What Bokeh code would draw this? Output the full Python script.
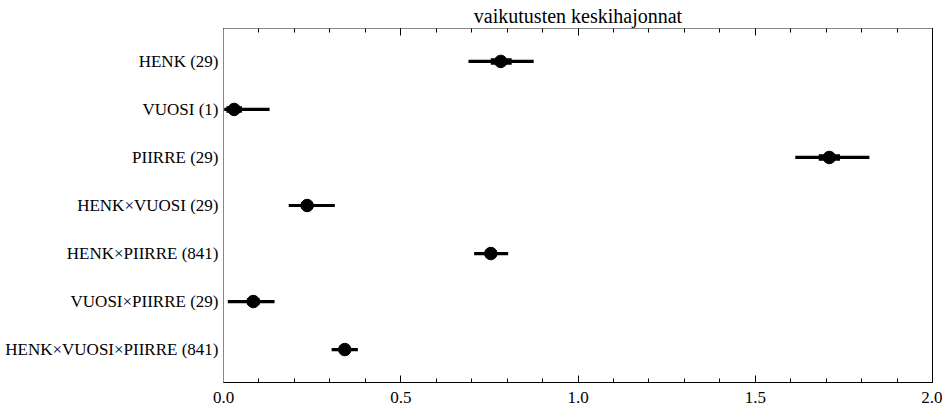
from bokeh.plotting import figure
from bokeh.models import FactorRange, LinearAxis, FixedTicker, ColumnDataSource
from bokeh.embed import file_html
from bokeh.resources import INLINE

labels = ["HENK (29)", "VUOSI (1)", "PIIRRE (29)", "HENK\u00d7VUOSI (29)",
          "HENK\u00d7PIIRRE (841)", "VUOSI\u00d7PIIRRE (29)", "HENK\u00d7VUOSI\u00d7PIIRRE (841)"]
median = [0.782, 0.030, 1.709, 0.236, 0.754, 0.084, 0.342]
lo95 = [0.691, 0.002, 1.613, 0.184, 0.707, 0.012, 0.305]
hi95 = [0.875, 0.130, 1.822, 0.314, 0.803, 0.144, 0.379]
lo50 = [0.754, 0.008, 1.679, 0.220, 0.738, 0.066, 0.328]
hi50 = [0.813, 0.052, 1.739, 0.252, 0.770, 0.102, 0.356]
x_ticks = [0.0, 0.5, 1.0, 1.5, 2.0]
x_tick_labels = ["0.0", "0.5", "1.0", "1.5", "2.0"]
title_text = "vaikutusten keskihajonnat"

src = ColumnDataSource(dict(cat=labels, med=median, lo95=lo95, hi95=hi95, lo50=lo50, hi50=hi50))

FONT = "Liberation Serif"
minor = [i / 10 for i in range(21)]

p = figure(width=942, height=407, output_backend="svg", toolbar_location=None,
           x_range=(0, 2.0),
           y_range=FactorRange(factors=list(reversed(labels)), range_padding=0.053),
           x_axis_location="below", title=title_text)
p.min_border_left = 223
p.min_border_right = 10
p.min_border_top = 28
p.min_border_bottom = 25

p.title.align = "center"
p.title.text_font = FONT
p.title.text_font_style = "normal"
p.title.text_font_size = "20px"
p.title.text_color = "black"
p.title.standoff = 4
p.title.offset = 0

p.grid.visible = False
p.outline_line_color = "black"
p.outline_line_width = 1
p.background_fill_color = "white"
p.border_fill_color = "white"

xa = p.xaxis[0]
xa.ticker = FixedTicker(ticks=x_ticks, minor_ticks=minor)
xa.major_tick_in = 7
xa.major_tick_out = 0
xa.minor_tick_in = 4
xa.minor_tick_out = 0
xa.major_label_standoff = 9
xa.major_label_text_font = FONT
xa.major_label_text_font_size = "17px"
xa.major_label_text_color = "black"
xa.axis_line_color = "black"
xa.major_tick_line_color = "black"
xa.minor_tick_line_color = "black"
xa.major_label_overrides = dict(zip(x_ticks, x_tick_labels))

top = LinearAxis(ticker=FixedTicker(ticks=x_ticks, minor_ticks=minor))
top.major_tick_in = 7
top.major_tick_out = 0
top.minor_tick_in = 4
top.minor_tick_out = 0
top.major_label_overrides = {t: "" for t in x_ticks}
top.major_label_standoff = 0
top.axis_line_color = "#888888"
top.major_tick_line_color = "black"
top.minor_tick_line_color = "black"
p.add_layout(top, "above")

ya = p.yaxis[0]
ya.major_tick_in = 0
ya.major_tick_out = 0
ya.minor_tick_in = 0
ya.minor_tick_out = 0
ya.major_label_standoff = 5
ya.major_label_text_font = FONT
ya.major_label_text_font_size = "17px"
ya.major_label_text_color = "black"
ya.axis_line_color = "#888888"

p.segment(x0="lo95", x1="hi95", y0="cat", y1="cat", source=src, line_width=3.2, line_color="black")
p.segment(x0="lo50", x1="hi50", y0="cat", y1="cat", source=src, line_width=6.5, line_color="black")
p.scatter(x="med", y="cat", source=src, size=12.5, fill_color="black", line_color="black")

open("out.html", "w").write(file_html(p, INLINE))
